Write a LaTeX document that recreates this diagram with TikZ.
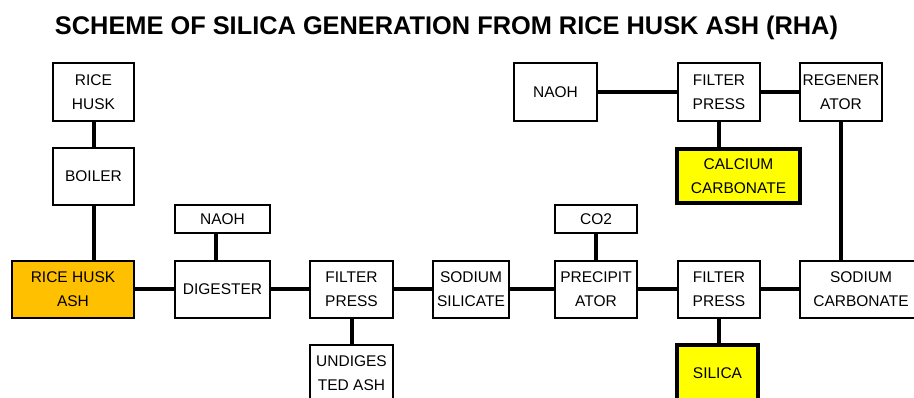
\documentclass[tikz,border=0pt]{standalone}
\usepackage{fontspec}
\setmainfont{Liberation Sans}
\definecolor{ashorange}{HTML}{FFC000}
\definecolor{prodyellow}{HTML}{FFFF00}
\begin{document}
\begin{tikzpicture}[x=1pt,y=-1pt,
  box/.style={draw=black, line width=2pt, fill=white, inner sep=0pt, align=center,
    font=\fontsize{15.5}{24}\selectfont, text=black},
  thick box/.style={box, line width=4pt},
  link/.style={line width=4pt, black}]
\useasboundingbox (0,0) rectangle (914,398);
\clip (0,0) rectangle (914,398);
\fill[white] (0,0) rectangle (914,398);
\node[anchor=base, inner sep=0pt] (title) at (446.5,35) {\resizebox{783pt}{18.5pt}{\fontsize{24}{28}\selectfont\bfseries SCHEME OF SILICA GENERATION FROM RICE HUSK ASH (RHA)}};
\node[box, minimum width=81pt, minimum height=58pt] (ricehusk) at (93.5,92) {RICE\\HUSK};
\node[box, minimum width=81pt, minimum height=57pt] (boiler) at (93.5,176.5) {BOILER};
\node[box, minimum width=95pt, minimum height=28pt] (naoha) at (222.5,219) {NAOH};
\node[box, fill=ashorange, minimum width=122pt, minimum height=57pt] (rha) at (73,289.5) {RICE HUSK\\ASH};
\node[box, minimum width=95pt, minimum height=57pt] (digester) at (222.5,289.5) {DIGESTER};
\node[box, minimum width=83pt, minimum height=57pt] (fpa) at (351.5,289.5) {FILTER\\PRESS};
\node[box, minimum width=83pt, minimum height=57pt] (undig) at (351.5,373.5) {UNDIGES\\TED ASH};
\node[box, minimum width=76pt, minimum height=57pt] (sodsil) at (471,289.5) {SODIUM\\SILICATE};
\node[box, minimum width=82pt, minimum height=57pt] (precip) at (596,289.5) {PRECIPIT\\ATOR};
\node[box, minimum width=82pt, minimum height=28pt] (cotwo) at (596,219) {CO2};
\node[box, minimum width=82pt, minimum height=57pt] (fpb) at (719,289.5) {FILTER\\PRESS};
\node[box, minimum width=122pt, minimum height=57pt] (sodcarb) at (861,289.5) {SODIUM\\CARBONATE};
\node[thick box, fill=prodyellow, minimum width=81pt, minimum height=55pt] (silica) at (717.5,373) {SILICA};
\node[box, minimum width=83pt, minimum height=58pt] (naohb) at (555.5,92) {NAOH};
\node[box, minimum width=82pt, minimum height=58pt] (fpc) at (719,92) {FILTER\\PRESS};
\node[box, minimum width=82pt, minimum height=58pt] (regen) at (841,92) {REGENER\\ATOR};
\node[thick box, fill=prodyellow, minimum width=123pt, minimum height=54pt] (calcium) at (738.5,176) {CALCIUM\\CARBONATE};
% connectors
\draw[link] (ricehusk.south) -- (boiler.north);
\draw[link] (boiler.south) -- (rha.north -| boiler.south);
\draw[link] (rha.east) -- (digester.west);
\draw[link] ([xshift=-7pt]naoha.south) -- ([xshift=-7pt]digester.north);
\draw[link] (digester.east) -- (fpa.west);
\draw[link] (fpa.south) -- (undig.north);
\draw[link] (fpa.east) -- (sodsil.west);
\draw[link] (sodsil.east) -- (precip.west);
\draw[link] (cotwo.south) -- (precip.north);
\draw[link] (precip.east) -- (fpb.west);
\draw[link] (fpb.east) -- (sodcarb.west);
\draw[link] (fpb.south) -- (silica.north -| fpb.south);
\draw[link] (regen.south) -- (sodcarb.north -| regen.south);
\draw[link] (naohb.east) -- (fpc.west);
\draw[link] (fpc.east) -- (regen.west);
\draw[link] (fpc.south) -- (calcium.north -| fpc.south);
\end{tikzpicture}
\end{document}
